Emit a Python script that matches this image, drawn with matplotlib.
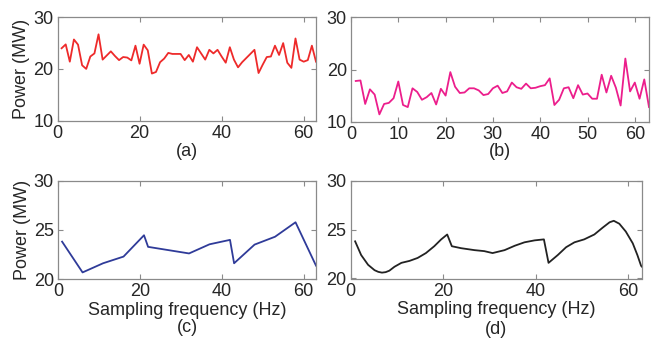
import numpy as np
import matplotlib
matplotlib.use("Agg")
import matplotlib.pyplot as plt

plt.rcParams['font.family'] = ['Liberation Sans', 'DejaVu Sans']

# ---- data ----
freq = np.arange(1, 64)

power_a = [24.0, 24.75, 21.4, 25.7, 24.7, 20.7, 20.0, 22.4, 23.0, 26.7,
           21.8, 22.6, 23.4, 22.5, 21.7, 22.3, 22.2, 21.65, 24.5, 21.0,
           24.7, 23.6, 19.1, 19.4, 21.3, 22.0, 23.1, 22.9, 22.9, 22.9,
           21.7, 22.7, 21.4, 24.2, 23.0, 21.8, 23.7, 23.0, 23.7, 22.4,
           21.2, 24.2, 21.8, 20.3, 21.3, 22.1, 22.9, 23.7, 19.2, 20.8,
           22.3, 22.4, 24.5, 22.7, 25.0, 21.2, 20.2, 25.9, 21.8, 21.4,
           21.7, 24.5, 21.4]

power_b = [17.8, 17.9, 13.4, 16.2, 15.2, 11.4, 13.4, 13.6, 14.5, 17.7,
           13.2, 12.8, 16.4, 15.7, 14.2, 14.7, 15.5, 13.3, 16.3, 15.0,
           19.5, 16.7, 15.5, 15.6, 16.4, 16.4, 16.0, 15.1, 15.3, 16.4,
           16.9, 15.5, 15.8, 17.5, 16.6, 16.3, 17.3, 16.4, 16.5, 16.8,
           17.0, 18.3, 13.2, 14.2, 16.4, 16.6, 14.5, 17.0, 15.2, 15.4,
           14.4, 14.4, 19.0, 15.6, 18.8, 16.5, 13.1, 22.1, 15.8, 17.5,
           14.4, 18.1, 12.8]

freq_c = [1, 6, 11, 16, 21, 22, 32, 37, 42, 43, 48, 53, 58, 63]
power_c = [23.8, 20.67, 21.6, 22.28, 24.45, 23.27, 22.6, 23.53, 23.98,
           21.6, 23.5, 24.3, 25.77, 21.36]

freq_d = [1, 2.3, 3.8, 5.2, 6.0, 6.8, 7.6, 8.4, 9.5, 11, 12.75, 14.5, 16.3,
          18.1, 19.6, 20.9, 21.9, 23.9, 26.8, 28.9, 30.7, 33.3, 35.5, 37.6,
          39.8, 41.8, 42.8, 44.8, 46.6, 48.4, 50.5, 52.7, 54.5, 56.0, 56.9,
          58.1, 59.5, 61.0, 62.0, 62.8, 63.0]
power_d = [23.8, 22.4, 21.4, 20.85, 20.68, 20.6, 20.65, 20.8, 21.2, 21.6,
           21.8, 22.1, 22.6, 23.3, 24.0, 24.5, 23.3, 23.1, 22.9, 22.8, 22.6,
           22.9, 23.35, 23.7, 23.9, 24.0, 21.6, 22.4, 23.2, 23.7, 24.0, 24.5,
           25.2, 25.75, 25.9, 25.6, 24.8, 23.6, 22.4, 21.3, 21.2]

panel_labels = ['(a)', '(b)', '(c)', '(d)']
ylabel = 'Power (MW)'
xlabel = 'Sampling frequency (Hz)'

# ---- layout ----
W, H = 651, 345
fig = plt.figure(figsize=(W / 100, H / 100), dpi=100)

def ax_at(l, t, r, b):
    return fig.add_axes([l / W, 1 - b / H, (r - l) / W, (b - t) / H])

ax_a = ax_at(57.5, 17.3, 316, 120.5)
ax_b = ax_at(351, 17.3, 649, 121.7)
ax_c = ax_at(58, 180.7, 316, 279)
ax_d = ax_at(350.5, 180.7, 642, 278.5)

text_col = '#262626'
spine_col = '#8a8a8a'
fs = 13

ax_a.plot(freq, power_a, color='#ee2a2a', lw=1.3)
ax_b.plot(freq, power_b, color='#ec1e8c', lw=1.3)
ax_c.plot(freq_c, power_c, color='#2f3b99', lw=1.3)
ax_d.plot(freq_d, power_d, color='#222222', lw=1.3)

for ax in (ax_a, ax_b, ax_c, ax_d):
    ax.set_xlim(0, 63)
    for s in ax.spines.values():
        s.set_color(spine_col)
        s.set_linewidth(0.9)
    ax.tick_params(direction='in', top=True, right=True, length=3.5,
                   width=0.8, color=spine_col, labelsize=fs,
                   labelcolor=text_col, pad=3)

for ax in (ax_a, ax_b):
    ax.set_ylim(10, 30)
    ax.set_yticks([10, 20, 30])
for ax in (ax_c, ax_d):
    ax.set_ylim(20, 30)
    ax.set_yticks([20, 25, 30])
for ax in (ax_a, ax_c, ax_d):
    ax.set_xticks([0, 20, 40, 60])
ax_b.set_xticks([0, 10, 20, 30, 40, 50, 60])

for ax in (ax_a, ax_c):
    ax.set_ylabel(ylabel, fontsize=fs, color=text_col, labelpad=2)
for ax in (ax_c, ax_d):
    ax.set_xlabel(xlabel, fontsize=fs, color=text_col, labelpad=1)

# panel letters
for ax, lab, yc in ((ax_a, panel_labels[0], 151), (ax_b, panel_labels[1], 151),
                    (ax_c, panel_labels[2], 328), (ax_d, panel_labels[3], 329)):
    pos = ax.get_position()
    fig.text(pos.x0 + pos.width / 2, 1 - yc / H, lab, ha='center', va='center',
             fontsize=fs, color=text_col)

fig.savefig('out.png', dpi=100)
